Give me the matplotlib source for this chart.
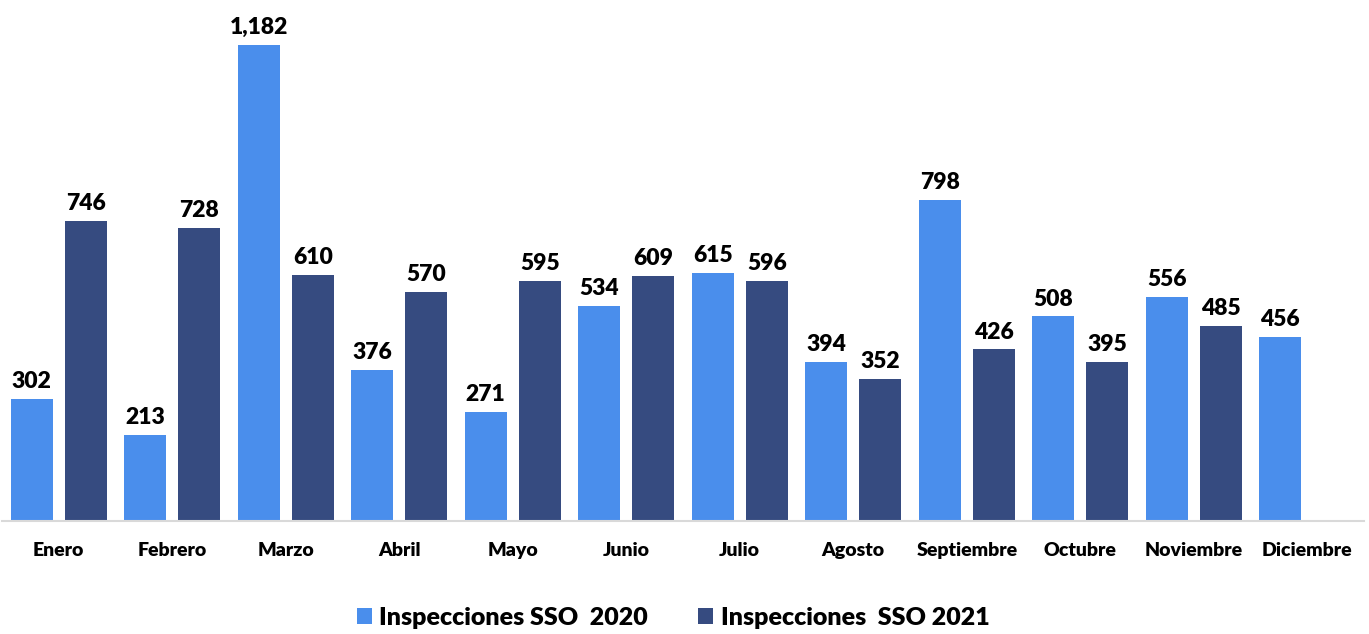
import matplotlib.pyplot as plt
import numpy as np

plt.rcParams['font.family'] = ['Lato', 'DejaVu Sans']

meses = ["Enero", "Febrero", "Marzo", "Abril", "Mayo", "Junio", "Julio",
         "Agosto", "Septiembre", "Octubre", "Noviembre", "Diciembre"]
insp_2020 = [302, 213, 1182, 376, 271, 534, 615, 394, 798, 508, 556, 456]
insp_2021 = [746, 728, 610, 570, 595, 609, 596, 352, 426, 395, 485, None]

color_2020 = "#4A8EEC"
color_2021 = "#364B80"

W, H = 1369, 634
fig = plt.figure(figsize=(W / 100, H / 100), dpi=100)
ax = fig.add_axes([2 / W, (H - 521) / H, 1362 / W, 521 / H])

x = np.arange(len(meses))
w = 0.372
off = 0.239

b1 = ax.bar(x - off, insp_2020, width=w, color=color_2020,
            label="Inspecciones SSO  2020")
x21 = [xi for xi, v in zip(x, insp_2021) if v is not None]
v21 = [v for v in insp_2021 if v is not None]
b2 = ax.bar(np.array(x21) + off, v21, width=w, color=color_2021,
            label="Inspecciones  SSO 2021")

for bars in (b1, b2):
    for bar in bars:
        h = bar.get_height()
        ax.annotate(f"{h:,.0f}", (bar.get_x() + bar.get_width() / 2, h),
                    xytext=(0, 5), textcoords="offset points",
                    ha="center", va="bottom", fontsize=16.5, fontweight="heavy")

ax.set_xlim(-0.5, len(meses) - 0.5)
ax.set_ylim(0, 1294)
ax.set_xticks(x)
ax.set_xticklabels(meses, fontsize=14, fontweight="heavy")
ax.tick_params(axis="x", length=0, pad=15)
ax.set_yticks([])
for s in ("top", "right", "left"):
    ax.spines[s].set_visible(False)
ax.spines["bottom"].set_color("#d9d9d9")
ax.spines["bottom"].set_linewidth(1.5)

fig.legend(handles=[b1, b2], loc="center", bbox_to_anchor=(0.4916, 0.026),
           ncol=2, frameon=False,
           prop={"weight": "heavy", "size": 18},
           handlelength=0.6, handleheight=0.6, handletextpad=0.3,
           columnspacing=2.0)

fig.savefig("out.png", dpi=100)
